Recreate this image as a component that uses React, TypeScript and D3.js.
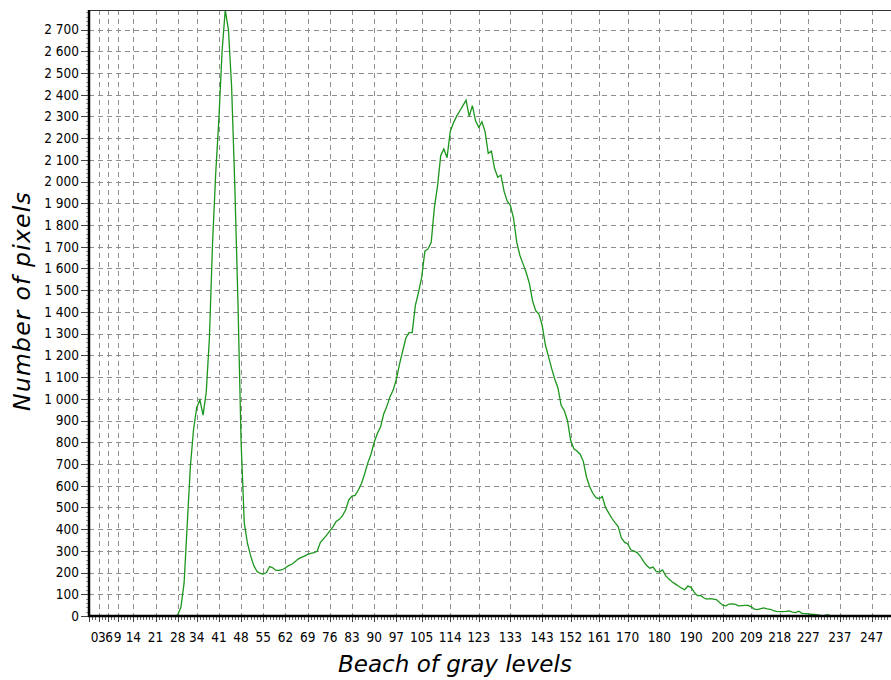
import React from "react";
import * as d3 from "d3";

// Histogram: number of pixels per gray level (0..255)
const pixelCounts: number[] = [
  // 0-27
  0, 0, 0, 0, 0, 0, 0, 0, 0, 0, 0, 0, 0, 0, 0, 0, 0, 0, 0, 0, 0, 0, 0, 0, 0, 0, 0, 0,
  // 28-49
  5, 40, 150, 420, 690, 860, 960, 995, 925, 1030, 1280, 1720, 2040, 2290, 2600, 2790, 2700, 2440, 1990, 1450, 800, 430,
  // 50-79
  335, 278, 232, 206, 196, 193, 200, 228, 222, 210, 210, 213, 222, 232, 238, 250, 262, 270, 276, 284, 288, 292, 298, 338, 355, 372, 392, 410, 435, 445,
  // 80-109
  462, 488, 535, 552, 555, 580, 610, 655, 705, 745, 800, 840, 870, 930, 965, 1010, 1040, 1090, 1160, 1220, 1280, 1305, 1305, 1430, 1490, 1560, 1680, 1690, 1720, 1880,
  // 110-139
  1980, 2120, 2150, 2110, 2230, 2270, 2300, 2325, 2350, 2375, 2300, 2350, 2280, 2250, 2275, 2230, 2130, 2140, 2060, 2020, 2030, 1955, 1910, 1890, 1830, 1720, 1660, 1620, 1580, 1530,
  // 140-169
  1450, 1405, 1390, 1340, 1250, 1195, 1140, 1090, 1050, 970, 945, 900, 810, 770, 760, 745, 712, 640, 595, 565, 545, 540, 550, 500, 475, 450, 430, 412, 360, 340,
  // 170-199
  332, 305, 299, 292, 275, 252, 232, 220, 225, 205, 202, 212, 186, 170, 158, 148, 138, 128, 121, 138, 132, 110, 94, 95, 84, 78, 80, 78, 76, 62,
  // 200-235
  50, 47, 55, 56, 53, 47, 48, 49, 49, 42, 32, 29, 34, 37, 33, 31, 25, 21, 20, 20, 21, 23, 18, 16, 22, 12, 11, 10, 8, 7, 5, 3, 2, 6, 2, 1,
  // 236-255
  0, 0, 0, 0, 0, 0, 0, 0, 0, 0, 0, 0, 0, 0, 0, 0, 0, 0, 0, 0,
];

const xTickValues = [0, 3, 6, 9, 14, 21, 28, 34, 41, 48, 55, 62, 69, 76, 83, 90, 97, 105, 114, 123, 133, 143, 152, 161, 170, 180, 190, 200, 209, 218, 227, 237, 247];
const yTickValues = [0, 100, 200, 300, 400, 500, 600, 700, 800, 900, 1000, 1100, 1200, 1300, 1400, 1500, 1600, 1700, 1800, 1900, 2000, 2100, 2200, 2300, 2400, 2500, 2600, 2700];
const xDomain = [0, 255];
const yDomain = [0, 2790];
const xTitle = "Beach of gray levels";
const yTitle = "Number of pixels";

export default function App() {
  const W = 891;
  const H = 680;
  const left = 89;
  const right = 897;
  const top = 10;
  const bottom = 616;

  const x = d3.scaleLinear().domain(xDomain).range([left, right]);
  const y = d3.scaleLinear().domain(yDomain).range([bottom, top]);

  const line = d3
    .line<number>()
    .x((_, i) => x(i))
    .y((d) => y(d));

  const fmt = (v: number) => d3.format(",")(v).replace(/,/g, " ");

  // simple collision avoidance for crowded x labels
  const charW = 7.2;
  let prevRight = left + 2;
  const xLabels = xTickValues.map((v) => {
    const t = String(v);
    const w = t.length * charW;
    const cx = Math.max(x(v), prevRight + w / 2);
    prevRight = cx + w / 2;
    return { v, t, cx };
  });

  const xMinor = d3.range(xDomain[0], xDomain[1] + 1, 1);
  const yMinor = d3.range(0, 2791, 20);

  const font = "'DejaVu Sans', Verdana, sans-serif";
  const tickFont = "'DejaVu Sans Condensed', 'DejaVu Sans', Verdana, sans-serif";

  return (
    <div>
      <style>{`body{margin:0;background:#fff}`}</style>
      <svg width={W} height={H} style={{ display: "block", background: "#fff" }}>
        <defs>
          <clipPath id="plotClip">
            <rect x={left} y={top} width={right - left} height={bottom - top} />
          </clipPath>
        </defs>

        {/* grid */}
        <g stroke="#8e8e8e" strokeWidth={1} strokeDasharray="5,4" fill="none">
          {yTickValues.slice(1).map((v) => (
            <line key={"hy" + v} x1={left} x2={W} y1={Math.round(y(v)) + 0.5} y2={Math.round(y(v)) + 0.5} />
          ))}
          {xTickValues.slice(1).map((v) => (
            <line key={"vx" + v} x1={Math.round(x(v)) + 0.5} x2={Math.round(x(v)) + 0.5} y1={top} y2={bottom} />
          ))}
        </g>

        {/* data line */}
        <path
          d={line(pixelCounts) || ""}
          fill="none"
          stroke="#1c961c"
          strokeWidth={1.3}
          clipPath="url(#plotClip)"
        />

        {/* top border */}
        <line x1={left} x2={W} y1={top + 0.5} y2={top + 0.5} stroke="#333" strokeWidth={1.2} />

        {/* y axis minor ticks */}
        <g stroke="#999" strokeWidth={1}>
          {yMinor.map((v) => (
            <line key={"ym" + v} x1={left - 3} x2={left} y1={Math.round(y(v)) + 0.5} y2={Math.round(y(v)) + 0.5} />
          ))}
        </g>
        {/* y axis ticks + labels */}
        <g>
          {yTickValues.map((v) => (
            <g key={"yt" + v}>
              <line x1={left - 8} x2={left} y1={Math.round(y(v)) + 0.5} y2={Math.round(y(v)) + 0.5} stroke="#444" strokeWidth={1} />
              <text
                x={left - 10}
                y={y(v)}
                dy="0.36em"
                textAnchor="end"
                fontFamily={tickFont}
                fontStretch="condensed"
                fontSize={13.5}
                fill="#000"
              >
                {fmt(v)}
              </text>
            </g>
          ))}
        </g>

        {/* x axis minor ticks */}
        <g stroke="#666" strokeWidth={1}>
          {xMinor.map((v) => (
            <line key={"xm" + v} x1={Math.round(x(v)) + 0.5} x2={Math.round(x(v)) + 0.5} y1={bottom} y2={bottom + 4} />
          ))}
        </g>
        <g>
          {xLabels.map((l) => (
            <g key={"xt" + l.v}>
              <line x1={Math.round(x(l.v)) + 0.5} x2={Math.round(x(l.v)) + 0.5} y1={bottom} y2={bottom + 6} stroke="#444" strokeWidth={1} />
              <text
                x={l.cx}
                y={642}
                textAnchor="middle"
                fontFamily={tickFont}
                fontStretch="condensed"
                fontSize={13.5}
                fill="#000"
              >
                {l.t}
              </text>
            </g>
          ))}
        </g>

        {/* axis lines */}
        <line x1={left} x2={left} y1={top} y2={bottom + 1} stroke="#000" strokeWidth={2.5} />
        <line x1={left - 1} x2={W} y1={bottom} y2={bottom} stroke="#000" strokeWidth={2.5} />

        {/* titles */}
        <text
          x={455}
          y={672}
          textAnchor="middle"
          fontFamily={font}
          fontStyle="italic"
          fontSize={23}
          fill="#000"
        >
          {xTitle}
        </text>
        <text
          transform={`translate(30, 301) rotate(-90)`}
          textAnchor="middle"
          fontFamily={font}
          fontStyle="italic"
          fontSize={23.5}
          letterSpacing={1.2}
          fill="#000"
        >
          {yTitle}
        </text>
      </svg>
    </div>
  );
}
